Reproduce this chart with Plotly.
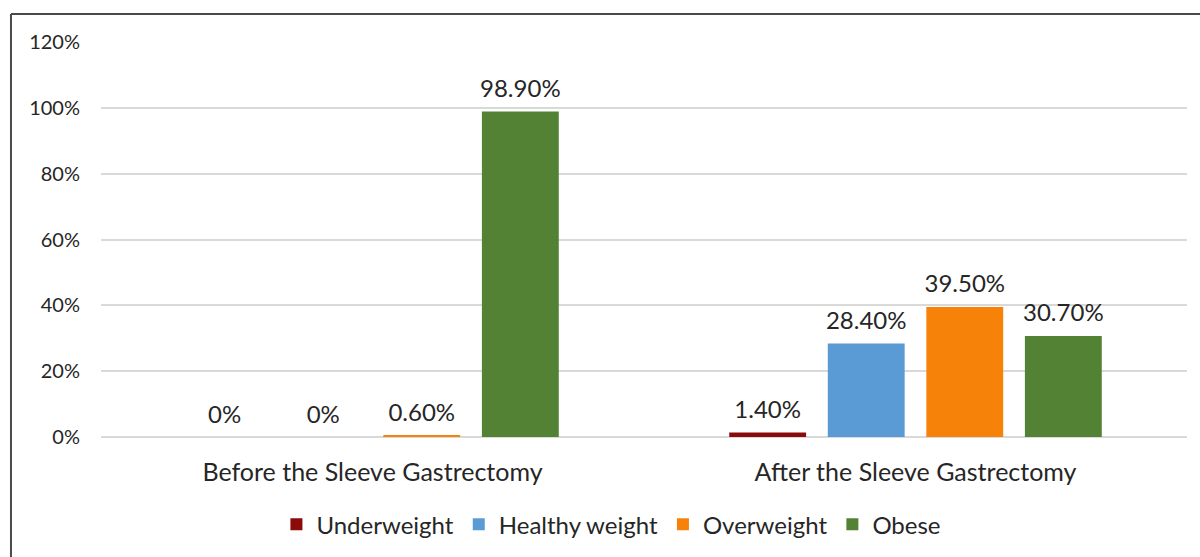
import plotly.graph_objects as go

categories = ["Before the Sleeve Gastrectomy", "After the Sleeve Gastrectomy"]
series_names = ["Underweight", "Healthy weight", "Overweight", "Obese"]
underweight = [0, 1.4]
healthy = [0, 28.4]
overweight = [0.6, 39.5]
obese = [98.9, 30.7]
tick_vals = [0, 20, 40, 60, 80, 100, 120]

colors = ["#8B0A0A", "#5B9BD5", "#F7820A", "#548235"]
FONT = "Lato"
TXT = "#262626"
BARGAP = 0.274


def fmt(v):
    return "0%" if v == 0 else f"{v:.2f}%"


fig = go.Figure()
for i, (name, vals, col) in enumerate(zip(series_names, [underweight, healthy, overweight, obese], colors)):
    fig.add_trace(go.Bar(
        name=name, x=categories, y=vals, marker_color=col, marker_line_width=0,
        offsetgroup=str(i), hoverinfo="skip",
    ))
for i, (name, vals) in enumerate(zip(series_names, [underweight, healthy, overweight, obese])):
    fig.add_trace(go.Scatter(
        x=categories, y=vals, mode="markers+text", offsetgroup=str(i),
        marker=dict(size=12, opacity=0), text=[fmt(v) for v in vals], textposition="top center",
        textfont=dict(size=24, color=TXT, family=FONT), showlegend=False, hoverinfo="skip",
        cliponaxis=False,
    ))

fig.update_layout(
    width=1200, height=557, barmode="group", bargap=BARGAP, bargroupgap=0.22,
    scattermode="group", scattergap=BARGAP,
    margin=dict(l=101, r=13, t=42, b=120, autoexpand=False),
    paper_bgcolor="white", plot_bgcolor="white",
    font=dict(family=FONT, color=TXT),
    legend=dict(orientation="h", x=0.47, xanchor="center", y=-0.222, yanchor="middle",
                font=dict(size=24, color=TXT, family=FONT), itemwidth=30,
                traceorder="normal"),
    xaxis=dict(showgrid=False, showline=False, ticks="", tickfont=dict(size=25, family=FONT, color=TXT),
               ticklabelstandoff=18, automargin=False),
    yaxis=dict(range=[0, 120], tickvals=tick_vals, ticktext=[f"{t}%" for t in tick_vals],
               showgrid=True, gridcolor="#D9D9D9", gridwidth=1.5, zeroline=True, zerolinecolor="#D9D9D9",
               zerolinewidth=1.5, tickfont=dict(size=20, family=FONT, color=TXT),
               ticklabelstandoff=20, showline=False, ticks="", automargin=False),
    shapes=[
        dict(type="line", xref="paper", yref="paper", x0=-0.0829, x1=-0.0829, y0=1.071, y1=-0.32,
             line=dict(color="#4A4A4A", width=2)),
        dict(type="line", xref="paper", yref="paper", x0=-0.0829, x1=1.02, y0=1.071, y1=1.071,
             line=dict(color="#4A4A4A", width=2)),
    ],
)

fig.write_html("out.html")
